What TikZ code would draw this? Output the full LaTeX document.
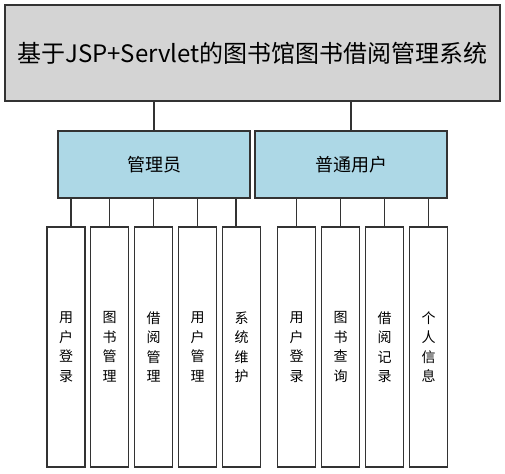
\documentclass[tikz,border=0pt]{standalone}
\usepackage{fontspec}
\setmainfont{Noto Sans CJK SC}
\definecolor{sysgray}{HTML}{D4D4D4}
\definecolor{roleblue}{HTML}{ADD8E6}
\tikzset{
  box/.style={draw=black!80, line width=1.2pt, inner sep=0pt},
  sysbox/.style={box, fill=sysgray, minimum width=495pt, minimum height=96pt, font=\fontsize{24}{28}\selectfont},
  rolebox/.style={box, fill=roleblue, minimum width=192pt, minimum height=67pt, font=\fontsize{18}{22}\selectfont},
  leafbox/.style={box, fill=white, minimum width=38pt, minimum height=240pt, align=center, font=\fontsize{14}{19.5}\selectfont},
  link/.style={draw=black!80, line width=1.2pt}
}
\begin{document}
\begin{tikzpicture}[x=1pt,y=1pt]
\useasboundingbox (0,0) rectangle (505,473);

\node[sysbox] (sys) at (252.5,420) {基于JSP+Servlet的图书馆图书借阅管理系统};

\node[rolebox] (admin) at (154,308.5) {管理员};
\node[rolebox] (user) at (351,308.5) {普通用户};

\node[leafbox] (a1) at (66,126) {用\\户\\登\\录};
\node[leafbox] (a2) at (109.5,126) {图\\书\\管\\理};
\node[leafbox] (a3) at (153.5,126) {借\\阅\\管\\理};
\node[leafbox] (a4) at (197.5,126) {用\\户\\管\\理};
\node[leafbox] (a5) at (241.5,126) {系\\统\\维\\护};
\node[leafbox] (u1) at (296.5,126) {用\\户\\登\\录};
\node[leafbox] (u2) at (340.5,126) {图\\书\\查\\询};
\node[leafbox] (u3) at (384.5,126) {借\\阅\\记\\录};
\node[leafbox] (u4) at (428.5,126) {个\\人\\信\\息};

% system to roles
\draw[link] (admin.north) -- (admin.north |- sys.south);
\draw[link] (user.north) -- (user.north |- sys.south);

% roles to functions
\draw[link] ([xshift=5pt]a1.north) -- ([xshift=5pt]a1.north |- admin.south);
\draw[link] (a2.north) -- (a2.north |- admin.south);
\draw[link] (a3.north) -- (a3.north |- admin.south);
\draw[link] (a4.north) -- (a4.north |- admin.south);
\draw[link] ([xshift=-5.5pt]a5.north) -- ([xshift=-5.5pt]a5.north |- admin.south);
\draw[link] (u1.north) -- (u1.north |- user.south);
\draw[link] (u2.north) -- (u2.north |- user.south);
\draw[link] (u3.north) -- (u3.north |- user.south);
\draw[link] (u4.north) -- (u4.north |- user.south);
\end{tikzpicture}
\end{document}
